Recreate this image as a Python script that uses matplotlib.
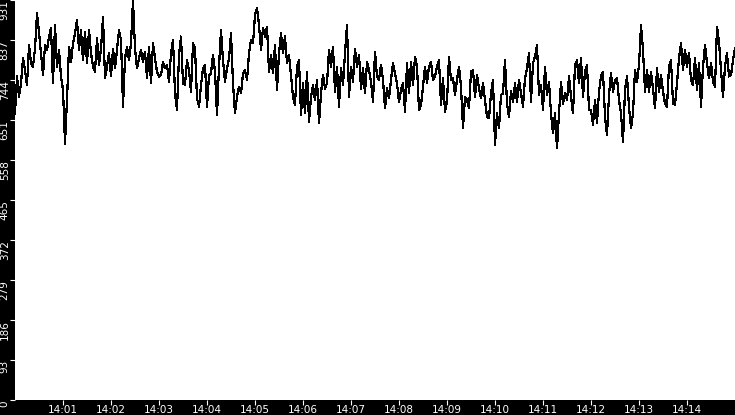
import numpy as np
import pandas as pd
import matplotlib
matplotlib.use("Agg")
import matplotlib.pyplot as plt
import matplotlib.dates as mdates

# one sample every 2.5 s, split in 3 minute blocks
block_1400 = [667, 753, 706, 737, 795, 768, 733, 826, 784, 776, 818, 900, 857, 807, 756, 826, 815, 846,
              865, 737, 873, 776, 815, 753, 722, 597, 698, 822, 787, 830, 853, 884, 815, 861, 791, 857,
              784, 861, 807, 776, 764, 842, 780, 818, 892, 749, 776, 807, 753, 818, 772, 815, 861, 838,
              683, 795, 822, 791, 830, 931, 818, 772, 795, 815, 787, 811, 749, 822, 737, 830, 795, 764]
block_1403 = [753, 756, 787, 772, 780, 741, 807, 838, 714, 675, 803, 846, 737, 733, 791, 768, 718, 830,
              818, 702, 683, 733, 772, 780, 683, 756, 760, 803, 764, 663, 776, 861, 791, 741, 772, 795,
              853, 737, 667, 706, 729, 714, 760, 768, 745, 807, 838, 830, 896, 912, 873, 815, 865, 846,
              869, 764, 803, 760, 826, 722, 807, 853, 807, 846, 784, 803, 756, 706, 687, 776, 791, 663]
block_1406 = [737, 667, 764, 648, 706, 733, 698, 745, 644, 714, 756, 725, 737, 815, 776, 822, 718, 776,
              683, 772, 733, 807, 873, 706, 776, 741, 818, 776, 803, 725, 772, 714, 787, 768, 741, 694,
              811, 753, 745, 780, 745, 679, 725, 702, 745, 784, 760, 737, 694, 722, 737, 671, 784, 714,
              787, 733, 799, 776, 675, 687, 729, 776, 737, 776, 787, 745, 753, 776, 791, 687, 749, 671]
block_1409 = [694, 799, 745, 749, 710, 745, 776, 729, 632, 706, 698, 679, 764, 768, 706, 756, 725, 702,
              737, 698, 659, 656, 714, 745, 594, 667, 632, 710, 714, 791, 690, 659, 718, 694, 737, 694,
              745, 714, 683, 749, 772, 807, 694, 784, 799, 826, 710, 733, 675, 776, 710, 741, 667, 621,
              667, 586, 667, 741, 690, 714, 698, 753, 706, 667, 780, 791, 737, 795, 706, 764, 780, 675]
block_1412 = [675, 640, 698, 644, 718, 753, 764, 659, 617, 710, 760, 718, 745, 749, 698, 667, 601, 722,
              753, 683, 632, 667, 768, 741, 780, 873, 815, 718, 768, 718, 764, 725, 679, 772, 718, 756,
              718, 690, 683, 776, 791, 690, 687, 737, 795, 830, 768, 815, 776, 807, 745, 733, 795, 722,
              784, 683, 776, 826, 784, 749, 784, 741, 729, 869, 834, 768, 706, 776, 807, 753, 756, 791,
              818]

ytick_labels = ["0", "93", "186", "279", "372", "465", "558", "651", "744", "837", "931"]
y_max = 931

values = block_1400 + block_1403 + block_1406 + block_1409 + block_1412
times = pd.date_range("2024-01-01 14:00:00", periods=len(values), freq="2500ms")

fig = plt.figure(figsize=(7.35, 4.15), dpi=100, facecolor="black")
ax = fig.add_axes([15 / 735, 15 / 415, 720 / 735, 400 / 415])
ax.set_facecolor("white")

ax.plot(times, values, color="black", lw=0.85, antialiased=False)

ax.set_xlim(pd.Timestamp("2024-01-01 14:00:00"), pd.Timestamp("2024-01-01 14:15:00"))
ax.set_ylim(0, y_max)

ax.xaxis.set_major_locator(mdates.MinuteLocator(byminute=range(1, 15)))
ax.xaxis.set_major_formatter(mdates.DateFormatter("%H:%M"))

ax.set_yticks(np.linspace(0, y_max, len(ytick_labels)))
ax.set_yticklabels(ytick_labels, rotation=90, va="top")

for s in ax.spines.values():
    s.set_visible(False)

# ticks ~5 px long, labels tight against them
ax.tick_params(axis="both", colors="white", length=3.6, width=0.8, labelsize=7.5, labelcolor="white")
ax.tick_params(axis="x", pad=0)
ax.tick_params(axis="y", pad=0.2)

fig.savefig("out.png", dpi=100, facecolor="black")
